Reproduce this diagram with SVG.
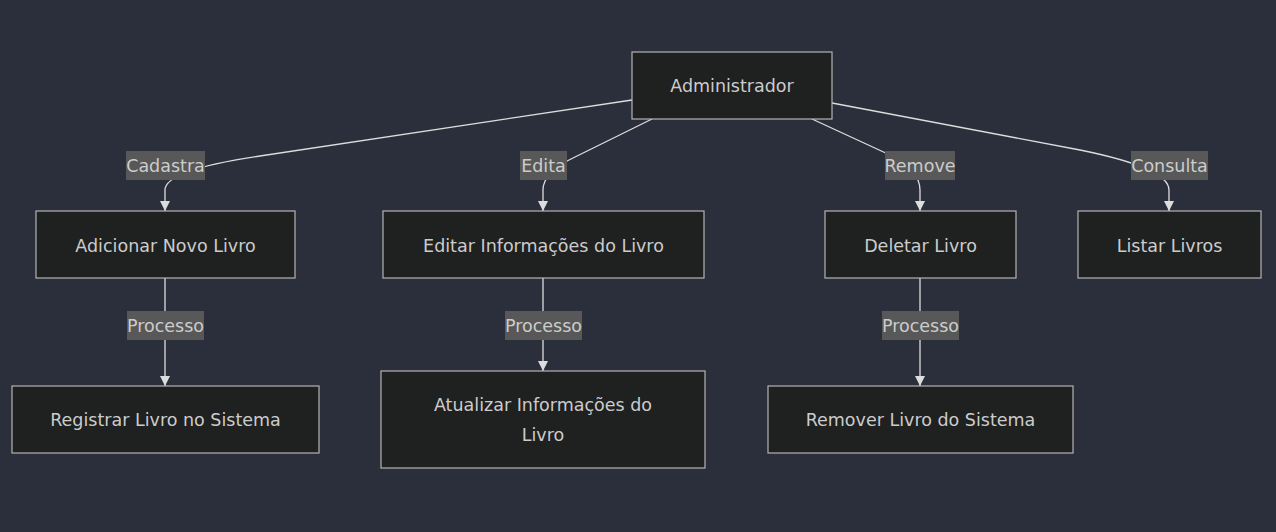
<svg xmlns="http://www.w3.org/2000/svg" width="1276" height="532" viewBox="0 0 1276 532">
<style>
.bg{fill:#2a2f3b}
.node rect{fill:#1f2020;stroke:#b4b4b4;stroke-width:1.2}
.node text{fill:#cccccc;font-family:"DejaVu Sans",sans-serif;font-size:17.5px;text-anchor:middle;dominant-baseline:central}
.edge{fill:none;stroke:#dddddd;stroke-width:1.3}
.lbl rect{fill:#585858}
.lbl text{fill:#cccccc;font-family:"DejaVu Sans",sans-serif;font-size:17.5px;text-anchor:middle;dominant-baseline:central}
</style>
<defs>
<marker id="arr" viewBox="0 0 10 10" refX="10" refY="5" markerWidth="10" markerHeight="10" markerUnits="userSpaceOnUse" orient="auto">
<path d="M0,0 L10,5 L0,10 z" fill="#dddddd"/>
</marker>
</defs>
<rect class="bg" x="0" y="0" width="1276" height="532"/>
<g id="connectors">
<path class="edge" d="M632,100 L260,156 Q165,170 165,190 L165,211" marker-end="url(#arr)"/>
<path class="edge" d="M652,119 L575,157 Q543,172 543,190 L543,211" marker-end="url(#arr)"/>
<path class="edge" d="M812,119 L890,155 Q920,170 920,190 L920,211" marker-end="url(#arr)"/>
<path class="edge" d="M832,103 L1080,150 Q1169,168 1169,190 L1169,211" marker-end="url(#arr)"/>
<path class="edge" d="M165,278 L165,386" marker-end="url(#arr)"/>
<path class="edge" d="M543,278 L543,371" marker-end="url(#arr)"/>
<path class="edge" d="M920,278 L920,386" marker-end="url(#arr)"/>
<g class="lbl"><rect x="126" y="151" width="79" height="29"/><text x="165.5" y="166">Cadastra</text></g>
<g class="lbl"><rect x="520" y="151" width="47" height="29"/><text x="543.5" y="166">Edita</text></g>
<g class="lbl"><rect x="885" y="151" width="70" height="29"/><text x="920" y="166">Remove</text></g>
<g class="lbl"><rect x="1131" y="151" width="77" height="29"/><text x="1169.5" y="166">Consulta</text></g>
<g class="lbl"><rect x="127" y="311" width="77" height="29"/><text x="165.5" y="326">Processo</text></g>
<g class="lbl"><rect x="505" y="311" width="77" height="29"/><text x="543.5" y="326">Processo</text></g>
<g class="lbl"><rect x="882" y="311" width="77" height="29"/><text x="920.5" y="326">Processo</text></g>
</g>
<g id="admin" class="node"><rect x="632" y="52" width="200" height="67"/><text x="732" y="86">Administrador</text></g>
<g id="adicionar" class="node"><rect x="36" y="211" width="259" height="67"/><text x="165.5" y="246">Adicionar Novo Livro</text></g>
<g id="editar" class="node"><rect x="383" y="211" width="321" height="67"/><text x="543.5" y="246">Editar Informações do Livro</text></g>
<g id="deletar" class="node"><rect x="825" y="211" width="191" height="67"/><text x="920.5" y="246">Deletar Livro</text></g>
<g id="listar" class="node"><rect x="1078" y="211" width="183" height="67"/><text x="1169.5" y="246">Listar Livros</text></g>
<g id="registrar" class="node"><rect x="12" y="386" width="307" height="67"/><text x="165.5" y="420">Registrar Livro no Sistema</text></g>
<g id="atualizar" class="node"><rect x="381" y="371" width="324" height="97"/><text x="543" y="405">Atualizar Informações do</text><text x="543" y="435">Livro</text></g>
<g id="remover" class="node"><rect x="768" y="386" width="305" height="67"/><text x="920.5" y="420">Remover Livro do Sistema</text></g>
</svg>
